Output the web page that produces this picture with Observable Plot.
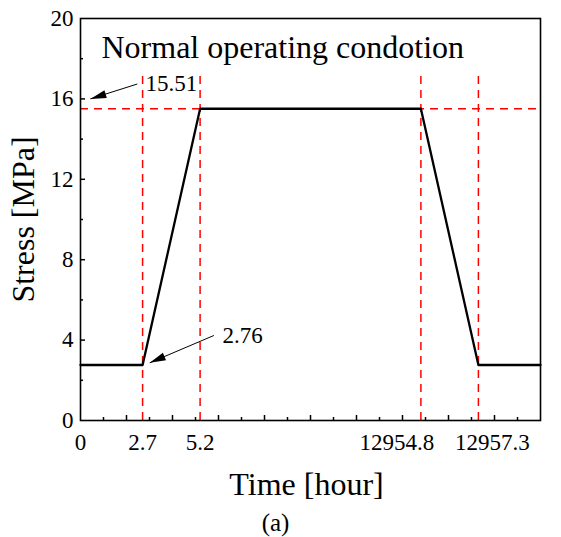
<!DOCTYPE html>
<html>
<head>
<meta charset="utf-8">
<script src="https://cdn.jsdelivr.net/npm/d3@7"></script>
<script src="https://cdn.jsdelivr.net/npm/@observablehq/plot@0.6"></script>
<style>
  body { margin: 0; background: #fff; }
  svg { display: block; }
</style>
</head>
<body>
<div id="chart"></div>
<script>
// ---- data ----
const times = [0, 2.7, 5.2, 12954.8, 12957.3, 12960];
const stress = [2.76, 2.76, 15.51, 15.51, 2.76, 2.76];
const guideTimes = [2.7, 5.2, 12954.8, 12957.3];
const peakStress = 15.51;
const baseStress = 2.76;
const xTickValues = [0, 2.7, 5.2, 12954.8, 12957.3];
const xTickLabels = ["0", "2.7", "5.2", "12954.8", "12957.3"];
const yTickValues = [0, 4, 8, 12, 16, 20];
const yMinorValues = [2, 6, 10, 14, 18];
const title = "Normal operating condotion";
const xLabel = "Time [hour]";
const yLabel = "Stress [MPa]";
const caption = "(a)";

// broken time axis: hours -> axis units (0..20)
const axisHours = [0, 5.2, 12954.8, 12960];
const axisUnits = [0, 5.2, 14.8, 20];
const hourToUnit = d3.scaleLinear().domain(axisHours).range(axisUnits);

// ---- layout ----
const W = 561, H = 537, mL = 80, mR = 21, mT = 18, mB = 117;
const plotW = W - mL - mR, plotH = H - mT - mB;
const font = "Liberation Serif, Times New Roman, serif";
const labelShift = [0, 0, 0, -24, 14]; // px offsets of the x tick labels

const xMajor = d3.range(2, 20, 2);   // axis units
const xMinor = d3.range(1, 20, 2);

const rows = times.map((t, i) => ({u: hourToUnit(t), s: stress[i]}));
const xTicks = xTickValues.map((v, i) => ({u: hourToUnit(v), label: xTickLabels[i], shift: labelShift[i]}));
const guides = guideTimes.map(hourToUnit);

// annotations in axis units
const notes = [
  {label: "15.51", tx: 2.83, ty: 16.74, x1: 2.47, y1: 16.74, x2: 0.43, y2: 16.0},
  {label: String(baseStress), tx: 6.17, ty: 4.2, x1: 5.8, y1: 4.23, x2: 3.01, y2: 2.87}
];
const guideTop = 17.4;

const chart = Plot.plot({
  width: W, height: H,
  marginLeft: mL, marginRight: mR, marginTop: mT, marginBottom: mB,
  style: {background: "#fff", fontFamily: font, overflow: "visible"},
  x: {domain: [0, 20], axis: null},
  y: {domain: [0, 20], axis: null},
  marks: [
    // guides
    Plot.ruleY([peakStress], {stroke: "#ff0000", strokeWidth: 1.5, strokeDasharray: "8,6"}),
    Plot.ruleX(guides, {x: d => d, y1: 0, y2: guideTop, stroke: "#ff0000", strokeWidth: 1.5, strokeDasharray: "8,6"}),
    // stress curve
    Plot.line(rows, {x: "u", y: "s", stroke: "#000", strokeWidth: 2.3}),
    // inward ticks
    Plot.tickX(xMajor, {x: d => d, insetTop: plotH - 5, stroke: "#000", strokeWidth: 1.5}),
    Plot.tickX(xMinor, {x: d => d, insetTop: plotH - 3, stroke: "#000", strokeWidth: 1.5}),
    Plot.tickY(yTickValues.slice(1, -1), {y: d => d, insetRight: plotW - 5, stroke: "#000", strokeWidth: 1.5}),
    Plot.tickY(yMinorValues, {y: d => d, insetRight: plotW - 3, stroke: "#000", strokeWidth: 1.5}),
    Plot.frame({stroke: "#000", strokeWidth: 1.6}),
    // tick labels
    ...xTicks.map(t => Plot.text([t], {x: "u", frameAnchor: "bottom", dy: 22, dx: t.shift, text: "label",
      textAnchor: "middle", lineAnchor: "middle", fontSize: 23, fill: "#000"})),
    Plot.text(yTickValues, {y: d => d, frameAnchor: "left", dx: -7, textAnchor: "end", text: d => String(d),
      lineAnchor: "middle", fontSize: 23, fill: "#000"}),
    // axis labels
    Plot.text([xLabel], {frameAnchor: "bottom", dy: 64, dx: -4, textAnchor: "middle", lineAnchor: "middle", fontSize: 32, fill: "#000"}),
    Plot.text([yLabel], {frameAnchor: "left", dx: -56.7, rotate: -90, textAnchor: "middle", lineAnchor: "middle", fontSize: 32, fill: "#000"}),
    // title
    Plot.text([title], {frameAnchor: "top-left", dx: 21, dy: 29.7, textAnchor: "start", lineAnchor: "middle", fontSize: 32, fill: "#000"}),
    // annotations
    Plot.link(notes, {x1: "x1", y1: "y1", x2: "x2", y2: "y2", stroke: "#000", strokeWidth: 1, markerEnd: "arrow"}),
    Plot.text(notes, {x: "tx", y: "ty", text: "label", textAnchor: "start", lineAnchor: "middle", fontSize: 23, fill: "#000"}),
    // caption
    Plot.text([caption], {frameAnchor: "bottom", dy: 102, dx: -35, textAnchor: "middle", lineAnchor: "middle", fontSize: 25, fill: "#000"})
  ]
});

// filled arrowheads
d3.select(chart).selectAll("marker").each(function() {
  const m = d3.select(this);
  m.attr("viewBox", "-17 -5 18 10")
   .attr("markerWidth", 18).attr("markerHeight", 10)
   .attr("markerUnits", "userSpaceOnUse")
   .attr("refX", 0).attr("refY", 0)
   .attr("fill", "#000").attr("stroke", "none");
  m.selectAll("path").attr("d", "M-16,-4L0,0L-16,4Z").attr("fill", "#000").attr("stroke", "none");
});

document.getElementById("chart").appendChild(chart);
</script>
</body>
</html>
